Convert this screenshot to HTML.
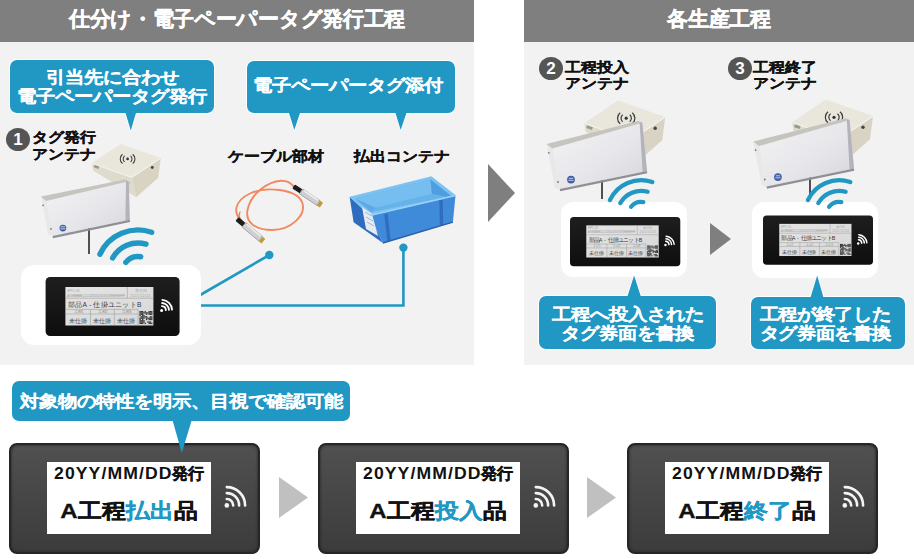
<!DOCTYPE html>
<html><head><meta charset="utf-8">
<style>
*{margin:0;padding:0;box-sizing:border-box}
html,body{width:914px;height:559px;overflow:hidden;background:#fff;font-family:"Liberation Sans",sans-serif;font-weight:bold}
.hdr,.lbl,.n,.d{-webkit-text-stroke:0.35px currentColor}
.call{-webkit-text-stroke:0.15px currentColor}
.a{position:absolute;left:0;top:0}
.panel{position:absolute;top:0;height:365px;background:#f2f2f2}
.hdr{position:absolute;left:0;top:0;right:0;height:42px;background:#7f7f7f;color:#fff;font-size:20.6px;line-height:37.5px;letter-spacing:-0.32px;text-align:center}
.call{position:absolute;background:#2198c4;border-radius:7px;color:#fff;text-align:center;box-shadow:0 0 0 1px #fff}
.lbl{position:absolute;font-size:16px;line-height:16px;color:#111}
.num{position:absolute;width:24px;height:23px;border-radius:50%;background:#555;color:#fff;font-size:17px;line-height:23px;text-align:center}
.btag{position:absolute;top:443px;width:251px;height:111px;border-radius:8px;background:linear-gradient(#505050,#3c3c3c);border:2px solid #262626;box-shadow:inset 0 0 3px #222}
.blab{position:absolute;left:36px;top:17px;width:164px;height:72px;background:#fff;color:#111;text-align:center}
.blab .d{position:absolute;left:0;right:0;top:2px;font-size:16px;line-height:20px}
.blab .d b{-webkit-text-stroke:0;display:inline-block;letter-spacing:1px;transform:scaleX(1.1);transform-origin:0 0;margin-right:10.8px}
.blab .n{position:absolute;left:0;right:0;top:34px;font-size:24px;line-height:30px}
.hl{color:#2198c4}
.sy{display:inline-block;transform:scaleY(0.88)}
</style></head><body>

<div class="panel" style="left:0;width:474px"><div class="hdr">仕分け・電子ペーパータグ発行工程</div></div>
<div class="panel" style="left:524px;width:390px"><div class="hdr">各生産工程</div></div>

<svg class="a" width="914" height="559">

  <polygon points="488,164 515,193 488,222" fill="#7f7f7f"/>
  <polygon points="710,223 731,239 710,255" fill="#7f7f7f"/>
  <polygon points="279,477 308,497.5 279,518" fill="#c0c0c0"/>
  <polygon points="587,477 616,497.5 587,518" fill="#c0c0c0"/>

  <g stroke="#2198c4" stroke-width="2.6" fill="none">
    <path d="M195,298 L269.3,255"/>
    <path d="M195,305.5 H403.4 V248"/>
  </g>
  <circle cx="269.3" cy="255" r="4.2" fill="#2198c4"/>
  <circle cx="403.4" cy="247.6" r="4.2" fill="#2198c4"/>

  <rect x="21" y="265" width="180" height="80" rx="13" fill="#fff"/>
  <rect x="561" y="202" width="126" height="75" rx="12" fill="#fff"/>
  <rect x="752" y="202" width="126" height="76" rx="12" fill="#fff"/>

  <g transform="translate(91.9,163.2) scale(0.85)">

  <polygon points="0,0 47,16.5 52,40 1.5,8.5" fill="#dfdbcc"/>
  <polygon points="47,16.5 81,-6.2 78,17 52,40" fill="#d8d3c2"/>
  <polygon points="0,0 33.8,-22.7 81,-6.2 47,16.5" fill="#e9e6dc"/>
  <polyline points="0,0 47,16.5 81,-6.2" fill="none" stroke="#f3f1e8" stroke-width="1.4"/>
  <circle cx="42" cy="-5" r="1.6" fill="#333"/>
  <path d="M38.5,-8.5 a4.5,4.5 0 0 0 0,7 M36,-10.5 a7,7 0 0 0 0,11 M45.5,-8.5 a4.5,4.5 0 0 1 0,7 M48,-10.5 a7,7 0 0 1 0,11" stroke="#3a3a3a" stroke-width="1.2" fill="none"/>
  <circle cx="71" cy="5" r="1.7" fill="#444"/>
  <path d="M33,22 l4,-2 M37,23.5 l4,-2 M41,25 l4,-2" stroke="#999" stroke-width="0.8"/>
  <rect x="3" y="2" width="6" height="3" fill="#9a9a90" transform="rotate(19 3 2)"/>
</g>
  <defs><linearGradient id="pg1" x1="0" y1="0" x2="1" y2="1"><stop offset="0" stop-color="#f3f3f5"/><stop offset="0.55" stop-color="#e7e7eb"/><stop offset="1" stop-color="#d4d5db"/></linearGradient></defs>
<line x1="89" y1="224" x2="89" y2="254" stroke="#1a1a1a" stroke-width="1.5"/>
<polygon points="41.1,196.5 46.1,197.3 52.5,235.9 48.2,234.9" fill="#e8e8e8"/>
<polygon points="46.1,197.3 128.8,181.2 129.8,219.8 52.5,235.9" fill="url(#pg1)"/>
<polygon points="41.1,196.5 124.8,179.4 128.8,181.2 46.1,201.1" fill="#c6c4be"/>
<polygon points="126.0,180.7 128.8,181.2 129.8,219.8 125.4,220.7" fill="#b3b4bb"/>
<polygon points="52.5,235.9 129.8,219.8 130.0,222.1 53.0,238.2" fill="#8f8f95"/>
<circle cx="62.9" cy="228.1" r="3.4" fill="#3f5fa6"/>
<path d="M60.3,228.8h5.2 M60.7,226.8h4.4" stroke="#dfe6f5" stroke-width="0.8"/>
<circle cx="43.1" cy="205.3" r="0.9" fill="#777"/><circle cx="51.0" cy="228.9" r="0.9" fill="#777"/>
  <g transform="translate(584.2,123.2)">

  <polygon points="0,0 47,16.5 52,40 1.5,8.5" fill="#dfdbcc"/>
  <polygon points="47,16.5 81,-6.2 78,17 52,40" fill="#d8d3c2"/>
  <polygon points="0,0 33.8,-22.7 81,-6.2 47,16.5" fill="#e9e6dc"/>
  <polyline points="0,0 47,16.5 81,-6.2" fill="none" stroke="#f3f1e8" stroke-width="1.4"/>
  <circle cx="42" cy="-5" r="1.6" fill="#333"/>
  <path d="M38.5,-8.5 a4.5,4.5 0 0 0 0,7 M36,-10.5 a7,7 0 0 0 0,11 M45.5,-8.5 a4.5,4.5 0 0 1 0,7 M48,-10.5 a7,7 0 0 1 0,11" stroke="#3a3a3a" stroke-width="1.2" fill="none"/>
  <circle cx="71" cy="5" r="1.7" fill="#444"/>
  <path d="M33,22 l4,-2 M37,23.5 l4,-2 M41,25 l4,-2" stroke="#999" stroke-width="0.8"/>
  <rect x="3" y="2" width="6" height="3" fill="#9a9a90" transform="rotate(19 3 2)"/>
</g>
  <defs><linearGradient id="pg2" x1="0" y1="0" x2="1" y2="1"><stop offset="0" stop-color="#f3f3f5"/><stop offset="0.55" stop-color="#e7e7eb"/><stop offset="1" stop-color="#d4d5db"/></linearGradient></defs>
<line x1="602" y1="170" x2="602" y2="199" stroke="#1a1a1a" stroke-width="1.5"/>
<polygon points="546.6,144.0 552.2,144.8 559.7,189.0 554.9,188.0" fill="#e8e8e8"/>
<polygon points="552.2,144.8 642.4,122.8 647.0,171.0 559.7,189.0" fill="url(#pg2)"/>
<polygon points="546.6,144.0 638.4,121.0 642.4,122.8 552.2,148.6" fill="#c6c4be"/>
<polygon points="639.6,122.3 642.4,122.8 647.0,171.0 642.6,171.9" fill="#b3b4bb"/>
<polygon points="559.7,189.0 647.0,171.0 647.2,173.3 560.2,191.3" fill="#8f8f95"/>
<circle cx="571.0" cy="179.6" r="3.9" fill="#3f5fa6"/>
<path d="M568.4,180.3h5.2 M568.8,178.3h4.4" stroke="#dfe6f5" stroke-width="0.8"/>
<circle cx="548.8" cy="152.8" r="0.9" fill="#777"/><circle cx="558.0" cy="182.0" r="0.9" fill="#777"/>
  <g transform="translate(792,122.3)">

  <polygon points="0,0 47,16.5 52,40 1.5,8.5" fill="#dfdbcc"/>
  <polygon points="47,16.5 81,-6.2 78,17 52,40" fill="#d8d3c2"/>
  <polygon points="0,0 33.8,-22.7 81,-6.2 47,16.5" fill="#e9e6dc"/>
  <polyline points="0,0 47,16.5 81,-6.2" fill="none" stroke="#f3f1e8" stroke-width="1.4"/>
  <circle cx="42" cy="-5" r="1.6" fill="#333"/>
  <path d="M38.5,-8.5 a4.5,4.5 0 0 0 0,7 M36,-10.5 a7,7 0 0 0 0,11 M45.5,-8.5 a4.5,4.5 0 0 1 0,7 M48,-10.5 a7,7 0 0 1 0,11" stroke="#3a3a3a" stroke-width="1.2" fill="none"/>
  <circle cx="71" cy="5" r="1.7" fill="#444"/>
  <path d="M33,22 l4,-2 M37,23.5 l4,-2 M41,25 l4,-2" stroke="#999" stroke-width="0.8"/>
  <rect x="3" y="2" width="6" height="3" fill="#9a9a90" transform="rotate(19 3 2)"/>
</g>
  <defs><linearGradient id="pg3" x1="0" y1="0" x2="1" y2="1"><stop offset="0" stop-color="#f3f3f5"/><stop offset="0.55" stop-color="#e7e7eb"/><stop offset="1" stop-color="#d4d5db"/></linearGradient></defs>
<line x1="810" y1="168" x2="810" y2="197" stroke="#1a1a1a" stroke-width="1.5"/>
<polygon points="753.4,141.4 759.0,142.2 766.5,186.5 761.7,185.5" fill="#e8e8e8"/>
<polygon points="759.0,142.2 849.6,120.0 854.0,168.5 766.5,186.5" fill="url(#pg3)"/>
<polygon points="753.4,141.4 845.6,118.2 849.6,120.0 759.0,146.0" fill="#c6c4be"/>
<polygon points="846.8,119.5 849.6,120.0 854.0,168.5 849.6,169.4" fill="#b3b4bb"/>
<polygon points="766.5,186.5 854.0,168.5 854.2,170.8 767.0,188.8" fill="#8f8f95"/>
<circle cx="777.9" cy="177.1" r="3.9" fill="#3f5fa6"/>
<path d="M775.3,177.8h5.2 M775.7,175.8h4.4" stroke="#dfe6f5" stroke-width="0.8"/>
<circle cx="755.6" cy="150.2" r="0.9" fill="#777"/><circle cx="764.8" cy="179.5" r="0.9" fill="#777"/>

  <path d="M99.94,254.25A42.00,42.00 0 0 1 151.67,232.29 M112.64,257.94A29.00,29.00 0 0 1 145.99,244.12 M125.79,262.46A15.50,15.50 0 0 1 140.69,256.74" stroke="#2198c4" stroke-width="5.4" fill="none" stroke-linecap="round"/>
  <path d="M609.90,200.05A34.43,34.43 0 0 1 652.31,182.05 M620.31,203.08A23.77,23.77 0 0 1 647.65,191.75 M631.09,206.78A12.70,12.70 0 0 1 643.31,202.09" stroke="#2198c4" stroke-width="4.3" fill="none" stroke-linecap="round"/>
  <path d="M807.90,200.05A34.43,34.43 0 0 1 850.31,182.05 M818.31,203.08A23.77,23.77 0 0 1 845.65,191.75 M829.09,206.78A12.70,12.70 0 0 1 841.31,202.09" stroke="#2198c4" stroke-width="4.3" fill="none" stroke-linecap="round"/>

  <g transform="translate(45.6,277)">

  <defs><linearGradient id="tb" x1="0" y1="0" x2="0" y2="1"><stop offset="0" stop-color="#1e1e1e"/><stop offset="1" stop-color="#0e0e0e"/></linearGradient>
  <linearGradient id="sc" x1="0" y1="0" x2="1" y2="1"><stop offset="0" stop-color="#e4e4e4"/><stop offset="1" stop-color="#d8d8d8"/></linearGradient></defs>
  <rect x="0" y="0" width="134" height="59" rx="4.5" fill="url(#tb)"/>
  <rect x="19.8" y="10" width="88" height="38.5" fill="url(#sc)"/>
  <g stroke="#909090" stroke-width="0.5" fill="none">
    <path d="M19.8,21.2H107.8 M81.7,10V21.2 M19.8,32.4H92.4 M19.8,37H92.4 M44.9,32.4V48.5 M68.7,32.4V48.5 M92.4,32.4V48.5"/>
  </g>
  <g fill="#a0a0a0" font-size="3.6" font-weight="normal">
    <text x="22" y="14.5">EPC-ID</text>
    <text x="89" y="14.5">発行日</text>
    <text x="21.5" y="19.6" font-size="3.3" textLength="58">AXXBBBBBCCCCDDDDDXXXXXXEEEEEFFF</text>
    <text x="84.5" y="19.6" font-size="3.3" textLength="20">2021/12/24</text>
  </g>
  <g fill="#383838" font-weight="normal">
    <text x="22.5" y="29.8" font-size="6.6" letter-spacing="0.25">部品A - 仕掛ユニットB</text>
    <text x="28" y="36" font-size="3.6" fill="#8a8a8a">工程1</text>
    <text x="52" y="36" font-size="3.6" fill="#8a8a8a">工程2</text>
    <text x="76" y="36" font-size="3.6" fill="#8a8a8a">工程3</text>
    <text x="23" y="45.6" font-size="6.3">未仕掛</text>
    <text x="47" y="45.6" font-size="6.3">未仕掛</text>
    <text x="71" y="45.6" font-size="6.3">未仕掛</text>
  </g>
  <g fill="#3a3a3a"><rect x="93.8" y="34.0" width="1.35" height="1.35"/><rect x="93.8" y="35.3" width="1.35" height="1.35"/><rect x="93.8" y="36.6" width="1.35" height="1.35"/><rect x="93.8" y="37.9" width="1.35" height="1.35"/><rect x="93.8" y="40.5" width="1.35" height="1.35"/><rect x="93.8" y="41.8" width="1.35" height="1.35"/><rect x="93.8" y="43.1" width="1.35" height="1.35"/><rect x="93.8" y="44.4" width="1.35" height="1.35"/><rect x="93.8" y="45.7" width="1.35" height="1.35"/><rect x="95.1" y="34.0" width="1.35" height="1.35"/><rect x="95.1" y="35.3" width="1.35" height="1.35"/><rect x="95.1" y="36.6" width="1.35" height="1.35"/><rect x="95.1" y="39.2" width="1.35" height="1.35"/><rect x="95.1" y="40.5" width="1.35" height="1.35"/><rect x="95.1" y="43.1" width="1.35" height="1.35"/><rect x="95.1" y="44.4" width="1.35" height="1.35"/><rect x="95.1" y="45.7" width="1.35" height="1.35"/><rect x="96.4" y="34.0" width="1.35" height="1.35"/><rect x="96.4" y="35.3" width="1.35" height="1.35"/><rect x="96.4" y="36.6" width="1.35" height="1.35"/><rect x="96.4" y="37.9" width="1.35" height="1.35"/><rect x="96.4" y="39.2" width="1.35" height="1.35"/><rect x="96.4" y="40.5" width="1.35" height="1.35"/><rect x="96.4" y="41.8" width="1.35" height="1.35"/><rect x="96.4" y="43.1" width="1.35" height="1.35"/><rect x="96.4" y="44.4" width="1.35" height="1.35"/><rect x="96.4" y="45.7" width="1.35" height="1.35"/><rect x="97.7" y="35.3" width="1.35" height="1.35"/><rect x="97.7" y="37.9" width="1.35" height="1.35"/><rect x="97.7" y="39.2" width="1.35" height="1.35"/><rect x="97.7" y="40.5" width="1.35" height="1.35"/><rect x="97.7" y="43.1" width="1.35" height="1.35"/><rect x="97.7" y="44.4" width="1.35" height="1.35"/><rect x="99.0" y="34.0" width="1.35" height="1.35"/><rect x="99.0" y="35.3" width="1.35" height="1.35"/><rect x="99.0" y="39.2" width="1.35" height="1.35"/><rect x="99.0" y="45.7" width="1.35" height="1.35"/><rect x="100.3" y="35.3" width="1.35" height="1.35"/><rect x="100.3" y="36.6" width="1.35" height="1.35"/><rect x="100.3" y="39.2" width="1.35" height="1.35"/><rect x="100.3" y="40.5" width="1.35" height="1.35"/><rect x="100.3" y="41.8" width="1.35" height="1.35"/><rect x="101.6" y="35.3" width="1.35" height="1.35"/><rect x="101.6" y="40.5" width="1.35" height="1.35"/><rect x="101.6" y="44.4" width="1.35" height="1.35"/><rect x="102.9" y="34.0" width="1.35" height="1.35"/><rect x="102.9" y="35.3" width="1.35" height="1.35"/><rect x="102.9" y="36.6" width="1.35" height="1.35"/><rect x="102.9" y="40.5" width="1.35" height="1.35"/><rect x="102.9" y="41.8" width="1.35" height="1.35"/><rect x="102.9" y="44.4" width="1.35" height="1.35"/><rect x="102.9" y="45.7" width="1.35" height="1.35"/><rect x="104.2" y="34.0" width="1.35" height="1.35"/><rect x="104.2" y="35.3" width="1.35" height="1.35"/><rect x="104.2" y="36.6" width="1.35" height="1.35"/><rect x="104.2" y="39.2" width="1.35" height="1.35"/><rect x="104.2" y="40.5" width="1.35" height="1.35"/><rect x="104.2" y="41.8" width="1.35" height="1.35"/><rect x="104.2" y="44.4" width="1.35" height="1.35"/><rect x="104.2" y="45.7" width="1.35" height="1.35"/><rect x="105.5" y="34.0" width="1.35" height="1.35"/><rect x="105.5" y="35.3" width="1.35" height="1.35"/><rect x="105.5" y="36.6" width="1.35" height="1.35"/><rect x="105.5" y="39.2" width="1.35" height="1.35"/><rect x="105.5" y="40.5" width="1.35" height="1.35"/><rect x="105.5" y="41.8" width="1.35" height="1.35"/><rect x="105.5" y="45.7" width="1.35" height="1.35"/></g>
  <circle cx="116" cy="33.4" r="1.5" fill="#fff"/>
  <path d="M116.30,29.11A4.30,4.30 0 0 1 120.29,33.10 M116.52,26.02A7.40,7.40 0 0 1 123.38,32.88 M116.73,22.93A10.50,10.50 0 0 1 126.47,32.67" stroke="#fff" stroke-width="1.8" fill="none" stroke-linecap="round"/>
</g>
  <g transform="translate(570,217) scale(0.8231,0.8356)">

  <defs><linearGradient id="tb2" x1="0" y1="0" x2="0" y2="1"><stop offset="0" stop-color="#1e1e1e"/><stop offset="1" stop-color="#0e0e0e"/></linearGradient>
  <linearGradient id="sc2" x1="0" y1="0" x2="1" y2="1"><stop offset="0" stop-color="#e4e4e4"/><stop offset="1" stop-color="#d8d8d8"/></linearGradient></defs>
  <rect x="0" y="0" width="134" height="59" rx="4.5" fill="url(#tb2)"/>
  <rect x="19.8" y="10" width="88" height="38.5" fill="url(#sc2)"/>
  <g stroke="#909090" stroke-width="0.5" fill="none">
    <path d="M19.8,21.2H107.8 M81.7,10V21.2 M19.8,32.4H92.4 M19.8,37H92.4 M44.9,32.4V48.5 M68.7,32.4V48.5 M92.4,32.4V48.5"/>
  </g>
  <g fill="#a0a0a0" font-size="3.6" font-weight="normal">
    <text x="22" y="14.5">EPC-ID</text>
    <text x="89" y="14.5">発行日</text>
    <text x="21.5" y="19.6" font-size="3.3" textLength="58">AXXBBBBBCCCCDDDDDXXXXXXEEEEEFFF</text>
    <text x="84.5" y="19.6" font-size="3.3" textLength="20">2021/12/24</text>
  </g>
  <g fill="#383838" font-weight="normal">
    <text x="22.5" y="29.8" font-size="6.6" letter-spacing="0.25">部品A - 仕掛ユニットB</text>
    <text x="28" y="36" font-size="3.6" fill="#8a8a8a">工程1</text>
    <text x="52" y="36" font-size="3.6" fill="#8a8a8a">工程2</text>
    <text x="76" y="36" font-size="3.6" fill="#8a8a8a">工程3</text>
    <text x="23" y="45.6" font-size="6.3">未仕掛</text>
    <text x="47" y="45.6" font-size="6.3">未仕掛</text>
    <text x="71" y="45.6" font-size="6.3">未仕掛</text>
  </g>
  <g fill="#3a3a3a"><rect x="93.8" y="34.0" width="1.35" height="1.35"/><rect x="93.8" y="35.3" width="1.35" height="1.35"/><rect x="93.8" y="36.6" width="1.35" height="1.35"/><rect x="93.8" y="37.9" width="1.35" height="1.35"/><rect x="93.8" y="40.5" width="1.35" height="1.35"/><rect x="93.8" y="41.8" width="1.35" height="1.35"/><rect x="93.8" y="43.1" width="1.35" height="1.35"/><rect x="93.8" y="44.4" width="1.35" height="1.35"/><rect x="93.8" y="45.7" width="1.35" height="1.35"/><rect x="95.1" y="34.0" width="1.35" height="1.35"/><rect x="95.1" y="35.3" width="1.35" height="1.35"/><rect x="95.1" y="36.6" width="1.35" height="1.35"/><rect x="95.1" y="39.2" width="1.35" height="1.35"/><rect x="95.1" y="40.5" width="1.35" height="1.35"/><rect x="95.1" y="43.1" width="1.35" height="1.35"/><rect x="95.1" y="44.4" width="1.35" height="1.35"/><rect x="95.1" y="45.7" width="1.35" height="1.35"/><rect x="96.4" y="34.0" width="1.35" height="1.35"/><rect x="96.4" y="35.3" width="1.35" height="1.35"/><rect x="96.4" y="36.6" width="1.35" height="1.35"/><rect x="96.4" y="37.9" width="1.35" height="1.35"/><rect x="96.4" y="39.2" width="1.35" height="1.35"/><rect x="96.4" y="40.5" width="1.35" height="1.35"/><rect x="96.4" y="41.8" width="1.35" height="1.35"/><rect x="96.4" y="43.1" width="1.35" height="1.35"/><rect x="96.4" y="44.4" width="1.35" height="1.35"/><rect x="96.4" y="45.7" width="1.35" height="1.35"/><rect x="97.7" y="35.3" width="1.35" height="1.35"/><rect x="97.7" y="37.9" width="1.35" height="1.35"/><rect x="97.7" y="39.2" width="1.35" height="1.35"/><rect x="97.7" y="40.5" width="1.35" height="1.35"/><rect x="97.7" y="43.1" width="1.35" height="1.35"/><rect x="97.7" y="44.4" width="1.35" height="1.35"/><rect x="99.0" y="34.0" width="1.35" height="1.35"/><rect x="99.0" y="35.3" width="1.35" height="1.35"/><rect x="99.0" y="39.2" width="1.35" height="1.35"/><rect x="99.0" y="45.7" width="1.35" height="1.35"/><rect x="100.3" y="35.3" width="1.35" height="1.35"/><rect x="100.3" y="36.6" width="1.35" height="1.35"/><rect x="100.3" y="39.2" width="1.35" height="1.35"/><rect x="100.3" y="40.5" width="1.35" height="1.35"/><rect x="100.3" y="41.8" width="1.35" height="1.35"/><rect x="101.6" y="35.3" width="1.35" height="1.35"/><rect x="101.6" y="40.5" width="1.35" height="1.35"/><rect x="101.6" y="44.4" width="1.35" height="1.35"/><rect x="102.9" y="34.0" width="1.35" height="1.35"/><rect x="102.9" y="35.3" width="1.35" height="1.35"/><rect x="102.9" y="36.6" width="1.35" height="1.35"/><rect x="102.9" y="40.5" width="1.35" height="1.35"/><rect x="102.9" y="41.8" width="1.35" height="1.35"/><rect x="102.9" y="44.4" width="1.35" height="1.35"/><rect x="102.9" y="45.7" width="1.35" height="1.35"/><rect x="104.2" y="34.0" width="1.35" height="1.35"/><rect x="104.2" y="35.3" width="1.35" height="1.35"/><rect x="104.2" y="36.6" width="1.35" height="1.35"/><rect x="104.2" y="39.2" width="1.35" height="1.35"/><rect x="104.2" y="40.5" width="1.35" height="1.35"/><rect x="104.2" y="41.8" width="1.35" height="1.35"/><rect x="104.2" y="44.4" width="1.35" height="1.35"/><rect x="104.2" y="45.7" width="1.35" height="1.35"/><rect x="105.5" y="34.0" width="1.35" height="1.35"/><rect x="105.5" y="35.3" width="1.35" height="1.35"/><rect x="105.5" y="36.6" width="1.35" height="1.35"/><rect x="105.5" y="39.2" width="1.35" height="1.35"/><rect x="105.5" y="40.5" width="1.35" height="1.35"/><rect x="105.5" y="41.8" width="1.35" height="1.35"/><rect x="105.5" y="45.7" width="1.35" height="1.35"/></g>
  <circle cx="116" cy="33.4" r="1.5" fill="#fff"/>
  <path d="M116.30,29.11A4.30,4.30 0 0 1 120.29,33.10 M116.52,26.02A7.40,7.40 0 0 1 123.38,32.88 M116.73,22.93A10.50,10.50 0 0 1 126.47,32.67" stroke="#fff" stroke-width="1.8" fill="none" stroke-linecap="round"/>
</g>
  <g transform="translate(763,215.5) scale(0.8209,0.8356)">

  <defs><linearGradient id="tb3" x1="0" y1="0" x2="0" y2="1"><stop offset="0" stop-color="#1e1e1e"/><stop offset="1" stop-color="#0e0e0e"/></linearGradient>
  <linearGradient id="sc3" x1="0" y1="0" x2="1" y2="1"><stop offset="0" stop-color="#e4e4e4"/><stop offset="1" stop-color="#d8d8d8"/></linearGradient></defs>
  <rect x="0" y="0" width="134" height="59" rx="4.5" fill="url(#tb3)"/>
  <rect x="19.8" y="10" width="88" height="38.5" fill="url(#sc3)"/>
  <g stroke="#909090" stroke-width="0.5" fill="none">
    <path d="M19.8,21.2H107.8 M81.7,10V21.2 M19.8,32.4H92.4 M19.8,37H92.4 M44.9,32.4V48.5 M68.7,32.4V48.5 M92.4,32.4V48.5"/>
  </g>
  <g fill="#a0a0a0" font-size="3.6" font-weight="normal">
    <text x="22" y="14.5">EPC-ID</text>
    <text x="89" y="14.5">発行日</text>
    <text x="21.5" y="19.6" font-size="3.3" textLength="58">AXXBBBBBCCCCDDDDDXXXXXXEEEEEFFF</text>
    <text x="84.5" y="19.6" font-size="3.3" textLength="20">2021/12/24</text>
  </g>
  <g fill="#383838" font-weight="normal">
    <text x="22.5" y="29.8" font-size="6.6" letter-spacing="0.25">部品A - 仕掛ユニットB</text>
    <text x="28" y="36" font-size="3.6" fill="#8a8a8a">工程1</text>
    <text x="52" y="36" font-size="3.6" fill="#8a8a8a">工程2</text>
    <text x="76" y="36" font-size="3.6" fill="#8a8a8a">工程3</text>
    <text x="23" y="45.6" font-size="6.3">未仕掛</text>
    <text x="47" y="45.6" font-size="6.3">未仕掛</text>
    <text x="71" y="45.6" font-size="6.3">未仕掛</text>
  </g>
  <g fill="#3a3a3a"><rect x="93.8" y="34.0" width="1.35" height="1.35"/><rect x="93.8" y="35.3" width="1.35" height="1.35"/><rect x="93.8" y="36.6" width="1.35" height="1.35"/><rect x="93.8" y="37.9" width="1.35" height="1.35"/><rect x="93.8" y="40.5" width="1.35" height="1.35"/><rect x="93.8" y="41.8" width="1.35" height="1.35"/><rect x="93.8" y="43.1" width="1.35" height="1.35"/><rect x="93.8" y="44.4" width="1.35" height="1.35"/><rect x="93.8" y="45.7" width="1.35" height="1.35"/><rect x="95.1" y="34.0" width="1.35" height="1.35"/><rect x="95.1" y="35.3" width="1.35" height="1.35"/><rect x="95.1" y="36.6" width="1.35" height="1.35"/><rect x="95.1" y="39.2" width="1.35" height="1.35"/><rect x="95.1" y="40.5" width="1.35" height="1.35"/><rect x="95.1" y="43.1" width="1.35" height="1.35"/><rect x="95.1" y="44.4" width="1.35" height="1.35"/><rect x="95.1" y="45.7" width="1.35" height="1.35"/><rect x="96.4" y="34.0" width="1.35" height="1.35"/><rect x="96.4" y="35.3" width="1.35" height="1.35"/><rect x="96.4" y="36.6" width="1.35" height="1.35"/><rect x="96.4" y="37.9" width="1.35" height="1.35"/><rect x="96.4" y="39.2" width="1.35" height="1.35"/><rect x="96.4" y="40.5" width="1.35" height="1.35"/><rect x="96.4" y="41.8" width="1.35" height="1.35"/><rect x="96.4" y="43.1" width="1.35" height="1.35"/><rect x="96.4" y="44.4" width="1.35" height="1.35"/><rect x="96.4" y="45.7" width="1.35" height="1.35"/><rect x="97.7" y="35.3" width="1.35" height="1.35"/><rect x="97.7" y="37.9" width="1.35" height="1.35"/><rect x="97.7" y="39.2" width="1.35" height="1.35"/><rect x="97.7" y="40.5" width="1.35" height="1.35"/><rect x="97.7" y="43.1" width="1.35" height="1.35"/><rect x="97.7" y="44.4" width="1.35" height="1.35"/><rect x="99.0" y="34.0" width="1.35" height="1.35"/><rect x="99.0" y="35.3" width="1.35" height="1.35"/><rect x="99.0" y="39.2" width="1.35" height="1.35"/><rect x="99.0" y="45.7" width="1.35" height="1.35"/><rect x="100.3" y="35.3" width="1.35" height="1.35"/><rect x="100.3" y="36.6" width="1.35" height="1.35"/><rect x="100.3" y="39.2" width="1.35" height="1.35"/><rect x="100.3" y="40.5" width="1.35" height="1.35"/><rect x="100.3" y="41.8" width="1.35" height="1.35"/><rect x="101.6" y="35.3" width="1.35" height="1.35"/><rect x="101.6" y="40.5" width="1.35" height="1.35"/><rect x="101.6" y="44.4" width="1.35" height="1.35"/><rect x="102.9" y="34.0" width="1.35" height="1.35"/><rect x="102.9" y="35.3" width="1.35" height="1.35"/><rect x="102.9" y="36.6" width="1.35" height="1.35"/><rect x="102.9" y="40.5" width="1.35" height="1.35"/><rect x="102.9" y="41.8" width="1.35" height="1.35"/><rect x="102.9" y="44.4" width="1.35" height="1.35"/><rect x="102.9" y="45.7" width="1.35" height="1.35"/><rect x="104.2" y="34.0" width="1.35" height="1.35"/><rect x="104.2" y="35.3" width="1.35" height="1.35"/><rect x="104.2" y="36.6" width="1.35" height="1.35"/><rect x="104.2" y="39.2" width="1.35" height="1.35"/><rect x="104.2" y="40.5" width="1.35" height="1.35"/><rect x="104.2" y="41.8" width="1.35" height="1.35"/><rect x="104.2" y="44.4" width="1.35" height="1.35"/><rect x="104.2" y="45.7" width="1.35" height="1.35"/><rect x="105.5" y="34.0" width="1.35" height="1.35"/><rect x="105.5" y="35.3" width="1.35" height="1.35"/><rect x="105.5" y="36.6" width="1.35" height="1.35"/><rect x="105.5" y="39.2" width="1.35" height="1.35"/><rect x="105.5" y="40.5" width="1.35" height="1.35"/><rect x="105.5" y="41.8" width="1.35" height="1.35"/><rect x="105.5" y="45.7" width="1.35" height="1.35"/></g>
  <circle cx="116" cy="33.4" r="1.5" fill="#fff"/>
  <path d="M116.30,29.11A4.30,4.30 0 0 1 120.29,33.10 M116.52,26.02A7.40,7.40 0 0 1 123.38,32.88 M116.73,22.93A10.50,10.50 0 0 1 126.47,32.67" stroke="#fff" stroke-width="1.8" fill="none" stroke-linecap="round"/>
</g>

  <g fill="none" stroke="#f08a62" stroke-width="1.9" stroke-linecap="round">
    <path d="M243.6,222.9 C232,214 234,201 250,193.5 C266,186 296,189 302,202 C307,215 291,230 272,230 C255,230 244,222 248,208 C252,193 268,181.5 281,180.7 C287,180.5 291,183 293.6,186.4"/>
    <path d="M243.6,222.9 C240,220 238,216 240,212" stroke-width="1.2" stroke="#e07850"/>
  </g>
  <g transform="translate(293.6,186.4) rotate(33.8)"><rect x="0" y="-2.4" width="9" height="4.8" rx="1" fill="#1e1e1e"/><rect x="9" y="-2.9" width="21" height="5.8" fill="#cfcfcf" stroke="#777" stroke-width="0.5"/><rect x="11" y="-2.9" width="17" height="1.6" fill="#eee"/><rect x="30" y="-2.9" width="3.5" height="5.8" fill="#c29a3c"/></g>
  <g transform="translate(237,219) rotate(40)"><rect x="0" y="-2.4" width="9" height="4.8" rx="1" fill="#1e1e1e"/><rect x="9" y="-2.9" width="22" height="5.8" fill="#cfcfcf" stroke="#777" stroke-width="0.5"/><rect x="11" y="-2.9" width="18" height="1.6" fill="#eee"/><rect x="31" y="-2.9" width="3.5" height="5.8" fill="#c29a3c"/></g>

  <!-- container -->
  <polygon points="349.6,196.8 369.7,215.5 382.9,243 353.6,222.2" fill="#2f6cc0"/>
  <polygon points="369.7,215.5 455.5,195.5 452.9,222.2 382.9,243" fill="#3f8bd9"/>
  <polygon points="349.6,196.8 431.4,176.2 456,195.5 369.7,215.5" fill="#7cc3f3"/>
  <polygon points="355,198.5 430.5,179.6 450.5,195.5 371,212" fill="#5aaae6"/>
  <polygon points="355,198.5 430.5,179.6 432,194 376,208" fill="#76bdf0"/>
  <polygon points="430.5,179.6 450.5,195.5 446,197 432,194" fill="#4f9fe0"/>
  <polygon points="376,208 432,194 446,197 371,212" fill="#66b3ea"/>
  <polygon points="362,207 372,214 378,236 366,229" fill="#e4ebf3"/>
  <path d="M365,212 l7,4 M366,217 l7,4 M367,222 l7,4" stroke="#8a9fb8" stroke-width="0.7"/>
  <path d="M386,214 L389,241 M441,200 L441.5,225" stroke="#2f6dc2" stroke-width="3.4"/>
  <path d="M369.7,215.5 L455.5,195.5" stroke="#9ad2f7" stroke-width="1.4"/>
  <path d="M382.9,243 L452.9,222.2" stroke="#2a5fa8" stroke-width="1.4"/>

</svg>

<div class="call" style="left:10px;top:60px;width:204px;height:53px;font-size:19px;line-height:19px;padding-top:8px"><span class="sy">引当先に合わせ</span><br><span class="sy">電子ペーパータグ発行</span></div>
<div class="call" style="left:247px;top:61px;width:208px;height:52px;font-size:19px;line-height:50px;padding-right:6px"><span class="sy">電子ペーパータグ添付</span></div>
<div class="call" style="left:539px;top:296px;width:177px;height:53px;font-size:19px;line-height:19px;padding-top:9px"><span class="sy">工程へ投入された</span><br><span class="sy">タグ券面を書換</span></div>
<div class="call" style="left:751px;top:297px;width:154px;height:52px;font-size:19px;line-height:19px;padding-top:8px;padding-right:6px;letter-spacing:-0.3px"><span class="sy">工程が終了した</span><br><span class="sy">タグ券面を書換</span></div>
<div class="call" style="left:12px;top:381px;width:338px;height:40px;font-size:19px;line-height:41.5px"><span class="sy">対象物の特性を明示、目視で確認可能</span></div>

<svg class="a" width="914" height="559"><polygon points="124.3,113 137.2,113 130.8,131.9" fill="#fff"/><polygon points="124.6,110 136.9,110 130.8,130.5" fill="#2198c4"/><polygon points="287.8,113 301.2,113 294.3,131.4" fill="#fff"/><polygon points="288.1,110 301.0,110 294.3,130.0" fill="#2198c4"/><polygon points="394.2,113 407.7,113 400.7,131.4" fill="#fff"/><polygon points="394.5,110 407.5,110 400.7,130.0" fill="#2198c4"/><polygon points="626.4,296 641.9,296 634.1,274.1" fill="#fff"/><polygon points="626.6,299 641.7,299 634.1,275.5" fill="#2198c4"/><polygon points="809.4,297 824.5,297 817.2,274.1" fill="#fff"/><polygon points="809.7,300 824.2,300 817.2,275.5" fill="#2198c4"/></svg>

<div class="num" style="left:6px;top:127.5px">1</div>
<div class="lbl" style="left:32px;top:129px;line-height:17px"><span class="sy">タグ発行</span><br><span class="sy">アンテナ</span></div>
<div class="num" style="left:539px;top:57px">2</div>
<div class="lbl" style="left:565px;top:60px"><span class="sy">工程投入</span><br><span class="sy">アンテナ</span></div>
<div class="num" style="left:728px;top:57px">3</div>
<div class="lbl" style="left:753px;top:60px"><span class="sy">工程終了</span><br><span class="sy">アンテナ</span></div>
<div class="lbl" style="left:228px;top:148.5px"><span class="sy">ケーブル部材</span></div>
<div class="lbl" style="left:354px;top:148.5px"><span class="sy">払出コンテナ</span></div>

<div class="btag" style="left:9px"><div class="blab"><div class="d"><b>20YY/MM/DD</b>発行</div><div class="n"><span class="sy">A工程<span class="hl">払出</span>品</span></div></div></div>
<div class="btag" style="left:318px"><div class="blab"><div class="d"><b>20YY/MM/DD</b>発行</div><div class="n"><span class="sy">A工程<span class="hl">投入</span>品</span></div></div></div>
<div class="btag" style="left:627px"><div class="blab"><div class="d"><b>20YY/MM/DD</b>発行</div><div class="n"><span class="sy">A工程<span class="hl">終了</span>品</span></div></div></div>

<svg class="a" width="914" height="559">
  <g stroke="#f4f4f4" stroke-width="2.6" fill="none" stroke-linecap="round">
    <path d="M226.80,499.00A6.40,6.40 0 0 1 233.20,505.40 M226.80,493.10A12.30,12.30 0 0 1 239.10,505.40 M226.80,487.10A18.30,18.30 0 0 1 245.10,505.40"/>
    <path d="M535.80,499.00A6.40,6.40 0 0 1 542.20,505.40 M535.80,493.10A12.30,12.30 0 0 1 548.10,505.40 M535.80,487.10A18.30,18.30 0 0 1 554.10,505.40"/>
    <path d="M844.80,499.00A6.40,6.40 0 0 1 851.20,505.40 M844.80,493.10A12.30,12.30 0 0 1 857.10,505.40 M844.80,487.10A18.30,18.30 0 0 1 863.10,505.40"/>
  </g>
  <circle cx="226.8" cy="505.4" r="2.3" fill="#f4f4f4"/>
  <circle cx="535.8" cy="505.4" r="2.3" fill="#f4f4f4"/>
  <circle cx="844.8" cy="505.4" r="2.3" fill="#f4f4f4"/>
  <polygon points="171.9,418 192.4,418 181.8,453" fill="#2198c4"/>
</svg>
</body></html>
